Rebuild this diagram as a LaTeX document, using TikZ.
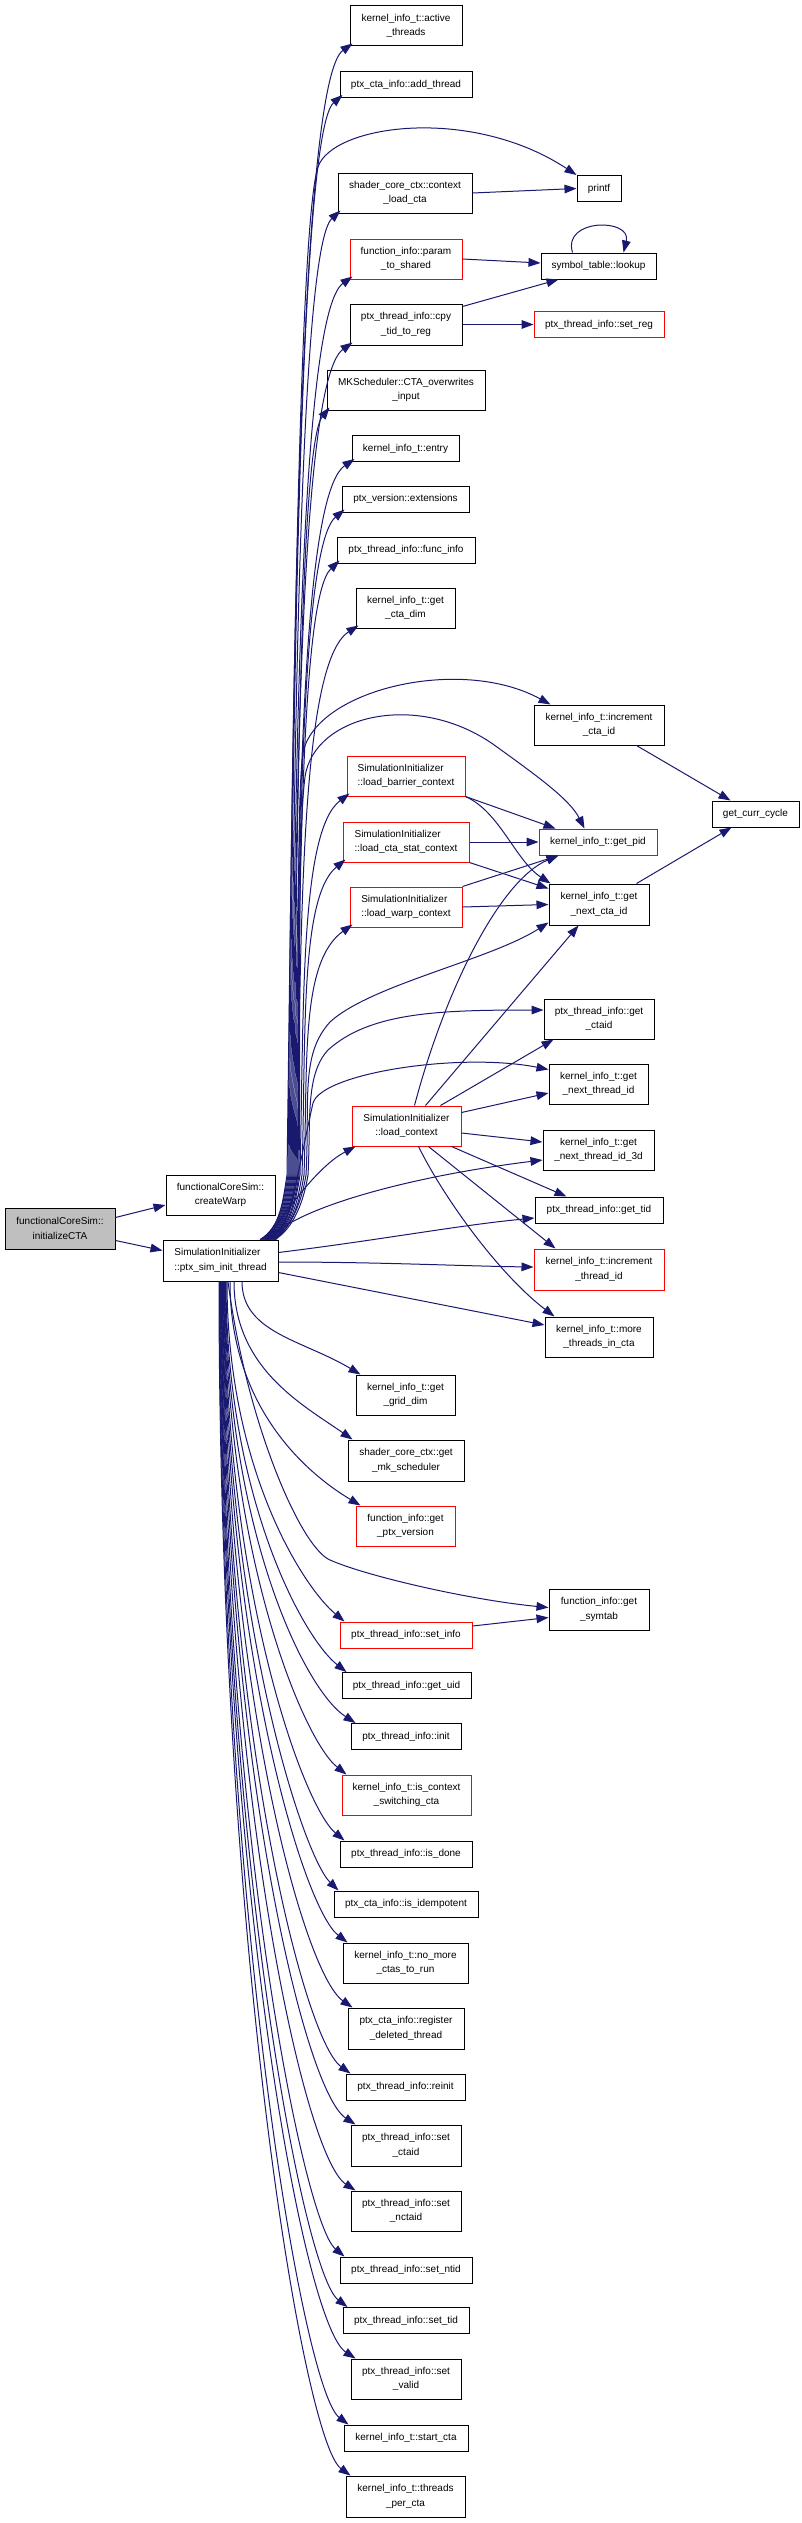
\documentclass[tikz,border=0pt]{standalone}
\usepackage{fontspec}
\setmainfont{Liberation Sans}
\usetikzlibrary{arrows.meta,calc}
\definecolor{edgec}{HTML}{191970}
\definecolor{redc}{HTML}{FF0000}
\definecolor{rootc}{HTML}{BFBFBF}
\begin{document}
\begin{tikzpicture}[x=0.75pt,y=-0.75pt,
  box/.style={draw=black, line width=0.75pt, rectangle, inner sep=0pt, font=\fontsize{7.5pt}{11pt}\selectfont, align=center},
  redbox/.style={box, draw=redc},
  lbox/.style={align=left},
  sz/.style 2 args={minimum width=#1*0.75pt, minimum height=#2*0.75pt},
  edge/.style={draw=edgec, line width=0.75pt, -{Triangle[length=9pt,width=6.5pt]}},
]
\useasboundingbox (0,0) rectangle (801,2523);

% nodes
\node[box, sz={112}{40}] (active) at (406,26) {kernel\_info\_t::active\\\_threads};
\node[box, sz={132}{26}] (addthr) at (406,84.5) {ptx\_cta\_info::add\_thread};
\node[box, sz={134}{40}] (ctxload) at (405,193) {shader\_core\_ctx::context\\\_load\_cta};
\node[box, sz={44}{26}] (printf) at (599,188.5) {printf};
\node[redbox, sz={112}{40}] (param) at (406,259) {function\_info::param\\\_to\_shared};
\node[box, sz={115}{26}] (lookup) at (598.5,266) {symbol\_table::lookup};
\node[box, sz={112}{41}] (cpy) at (406,324.5) {ptx\_thread\_info::cpy\\\_tid\_to\_reg};
\node[redbox, sz={130}{26}] (setreg) at (599,324.5) {ptx\_thread\_info::set\_reg};
\node[box, sz={158}{40}] (mksched) at (406,390) {MKScheduler::CTA\_overwrites\\\_input};
\node[box, sz={107}{26}] (entry) at (405.5,448.5) {kernel\_info\_t::entry};
\node[box, sz={127}{26}] (ext) at (405.5,499) {ptx\_version::extensions};
\node[box, sz={138}{26}] (funcinfo) at (406,550) {ptx\_thread\_info::func\_info};
\node[box, sz={99}{40}] (ctadim) at (405.5,608) {kernel\_info\_t::get\\\_cta\_dim};
\node[box, sz={130}{40}] (inccta) at (599,725) {kernel\_info\_t::increment\\\_cta\_id};
\node[redbox, lbox, sz={118}{40}] (barrier) at (406,776) {SimulationInitializer\\::load\_barrier\_context};
\node[box, sz={87}{26}] (curcycle) at (755.5,814) {get\_curr\_cycle};
\node[redbox, lbox, sz={126}{40}] (ctastat) at (406,842) {SimulationInitializer\\::load\_cta\_stat\_context};
\node[redbox, sz={118}{26}] (getpid) at (598,842) {kernel\_info\_t::get\_pid};
\node[redbox, lbox, sz={112}{40}] (warp) at (406,907) {SimulationInitializer\\::load\_warp\_context};
\node[box, sz={100}{41}] (nextcta) at (599,904.5) {kernel\_info\_t::get\\\_next\_cta\_id};
\node[box, sz={110}{40}] (getctaid) at (599,1019) {ptx\_thread\_info::get\\\_ctaid};
\node[box, sz={99}{40}] (nextthr) at (598.5,1084) {kernel\_info\_t::get\\\_next\_thread\_id};
\node[redbox, sz={109}{40}] (loadctx) at (406.5,1126) {SimulationInitializer\\::load\_context};
\node[box, sz={111}{40}] (nextthr3d) at (598.5,1150) {kernel\_info\_t::get\\\_next\_thread\_id\_3d};
\node[box, sz={109}{40}] (createwarp) at (220.5,1195) {functionalCoreSim::\\createWarp};
\node[box, fill=rootc, sz={110}{41}] (root) at (60,1228.5) {functionalCoreSim::\\initializeCTA};
\node[box, sz={128}{26}] (gettid) at (599,1210) {ptx\_thread\_info::get\_tid};
\node[redbox, sz={130}{41}] (incthr) at (599,1269.5) {kernel\_info\_t::increment\\\_thread\_id};
\node[box, lbox, sz={115}{41}] (P) at (220.5,1260.5) {SimulationInitializer\\::ptx\_sim\_init\_thread};
\node[box, sz={108}{40}] (morethr) at (599,1337) {kernel\_info\_t::more\\\_threads\_in\_cta};
\node[box, sz={99}{40}] (griddim) at (405.5,1395) {kernel\_info\_t::get\\\_grid\_dim};
\node[box, sz={116}{41}] (mksch) at (406,1460.5) {shader\_core\_ctx::get\\\_mk\_scheduler};
\node[redbox, sz={99}{40}] (ptxver) at (405.5,1526) {function\_info::get\\\_ptx\_version};
\node[box, sz={100}{41}] (symtab) at (599,1609.5) {function\_info::get\\\_symtab};
\node[redbox, sz={132}{26}] (setinfo) at (406,1635) {ptx\_thread\_info::set\_info};
\node[box, sz={129}{26}] (getuid) at (406.5,1685.5) {ptx\_thread\_info::get\_uid};
\node[box, sz={110}{26}] (init) at (406,1736.5) {ptx\_thread\_info::init};
\node[redbox, sz={129}{40}] (isctx) at (406.5,1795) {kernel\_info\_t::is\_context\\\_switching\_cta};
\node[box, sz={132}{26}] (isdone) at (406,1854) {ptx\_thread\_info::is\_done};
\node[box, sz={144}{26}] (idem) at (406,1904) {ptx\_cta\_info::is\_idempotent};
\node[box, sz={125}{40}] (nomore) at (405.5,1963) {kernel\_info\_t::no\_more\\\_ctas\_to\_run};
\node[box, sz={116}{41}] (regdel) at (406,2028.5) {ptx\_cta\_info::register\\\_deleted\_thread};
\node[box, sz={119}{26}] (reinit) at (405.5,2087) {ptx\_thread\_info::reinit};
\node[box, sz={110}{41}] (setctaid) at (406,2145.5) {ptx\_thread\_info::set\\\_ctaid};
\node[box, sz={110}{40}] (setnctaid) at (406,2211) {ptx\_thread\_info::set\\\_nctaid};
\node[box, sz={132}{26}] (setntid) at (406,2270) {ptx\_thread\_info::set\_ntid};
\node[box, sz={126}{26}] (settid) at (406,2320.5) {ptx\_thread\_info::set\_tid};
\node[box, sz={110}{40}] (setvalid) at (406,2379) {ptx\_thread\_info::set\\\_valid};
\node[box, sz={124}{26}] (startcta) at (406,2438) {kernel\_info\_t::start\_cta};
\node[box, sz={119}{41}] (thrpercta) at (405.5,2496.5) {kernel\_info\_t::threads\\\_per\_cta};

% upward edges from P to column 2 (pass right of createWarp first)
\foreach \t/\xs/\wx/\yt in {active/260/288/46, addthr/261/289/97, ctxload/262/290/213, param/263/291/279, cpy/264/292/345, mksched/265/293/410, entry/266/294/461, ext/267/295/512, funcinfo/268/296/563, ctadim/269/297/628, barrier/271/300/796, ctastat/272/302/862, warp/273/304/927} {
  \draw[edge] ($(P.north)+(\xs-220.5,0)$) .. controls (\xs+20,1228) and (\wx-4,1200) .. (\wx,1175)
     .. controls (\wx+4,{1175-0.45*(1175-\yt)}) and (300,\yt+35) .. ($(\t.south west)+(3,-3)$);
}
% downward edges from P to column 2
\foreach \t/\xs/\yt in {griddim/242/1375, mksch/234/1440, ptxver/230/1506, setinfo/227/1622, getuid/226/1673, init/225.5/1724, isctx/225/1775, isdone/224.5/1841, idem/224/1891, nomore/223.5/1943, regdel/223/2008, reinit/222.5/2074, setctaid/222/2125, setnctaid/221.5/2191, setntid/221/2257, settid/220.5/2308, setvalid/220/2359, startcta/219.5/2425, thrpercta/219/2476} {
  \draw[edge] ($(P.south)+(\xs-220.5,0)$) .. controls (\xs,{1281+0.55*(\yt-1281)}) and (303,\yt-35) .. ($(\t.north west)+(5,0)$);
}

% curved edges from P to column 3
\draw[edge] ($(P.north)+(40,0)$) .. controls (280.5,1228) and (283,1200) .. (287,1175)
   .. controls (292,800) and (298,227) .. (318,167) .. controls (332,125) and (470,105) .. (printf.north west);
\draw[edge] ($(P.north)+(47.5,0)$) .. controls (288,1228) and (294,1200) .. (298,1175)
   .. controls (300,1000) and (296,800) .. (303,753) .. controls (315,690) and (460,655) .. ($(inccta.north west)+(17,0)$);
\draw[edge] ($(P.north)+(49.5,0)$) .. controls (290,1228) and (295,1200) .. (299,1175)
   .. controls (301,1000) and (297,840) .. (305,777) .. controls (314,714) and (420,690) .. (497,747)
   .. controls (540,778) and (570,800) .. ($(getpid.north west)+(46,0)$);
\draw[edge] ($(P.north)+(53.5,0)$) .. controls (292,1228) and (302,1200) .. (306,1175)
   .. controls (310,1100) and (300,1055) .. (330,1022) .. controls (370,985) and (490,960) .. ($(nextcta.south west)+(0,-3)$);
\draw[edge] ($(P.north)+(54.5,0)$) .. controls (294,1228) and (304,1200) .. (308,1175)
   .. controls (311,1120) and (305,1075) .. (328,1050) .. controls (370,1012) and (440,1010) .. ($(getctaid.west)+(0,-9)$);
\draw[edge] ($(P.north)+(55.5,0)$) .. controls (292,1218) and (300,1160) .. (313,1103)
   .. controls (322,1073) and (460,1052) .. ($(nextthr.north west)+(0,6)$);
\draw[edge] ($(P.north)+(46,0)$) .. controls (290,1205) and (320,1165) .. ($(loadctx.south west)+(4,0)$);
\draw[edge] ($(P.north)+(47,0)$) .. controls (300,1205) and (420,1175) .. ($(nextthr3d.west)+(0,10)$);
\draw[edge] ($(P.east)+(0,-8)$) .. controls (380,1240) and (460,1225) .. ($(gettid.west)+(0,8)$);
\draw[edge] ($(P.east)+(0,1.5)$) .. controls (380,1262) and (460,1266) .. ($(incthr.west)+(0,-2.5)$);
\draw[edge] ($(P.east)+(0,12)$) -- ($(morethr.west)+(0,-12)$);
\draw[edge] ($(P.south)+(7.5,0)$) .. controls (246,1420) and (300,1547) .. (330,1560) .. controls (366,1576) and (470,1600) .. ($(symtab.west)+(0,-2)$);

% root edges
\draw[edge] ($(root.east)+(0,-11)$) -- ($(createwarp.west)+(0,10)$);
\draw[edge] ($(root.east)+(0,12)$) -- ($(P.west)+(0,-10)$);

% other edges
\draw[edge] (ctxload.east) -- (printf.west);
\draw[edge] (param.east) -- ($(lookup.west)+(0,-3)$);
\draw[edge] ($(lookup.north)+(-26,0)$) .. controls (562,218) and (632,218) .. ($(lookup.north)+(25,0)$);
\draw[edge] ($(cpy.north east)+(0,3)$) -- ($(lookup.south west)+(18,0)$);
\draw[edge] (cpy.east) -- (setreg.west);
\draw[edge] ($(inccta.south east)+(-28,0)$) -- ($(curcycle.north west)+(19,0)$);
\draw[edge] ($(nextcta.north east)+(-13,0)$) -- ($(curcycle.south west)+(20,0)$);
\draw[edge] (barrier.south east) -- ($(getpid.north west)+(17,0)$);
\draw[edge] (barrier.south east) .. controls (500,812) and (515,860) .. ($(nextcta.north west)+(2,0)$);
\draw[edge] (ctastat.east) -- (getpid.west);
\draw[edge] (ctastat.south east) -- ($(nextcta.west)+(0,-16)$);
\draw[edge] (warp.north east) -- ($(getpid.south west)+(20,0)$);
\draw[edge] (warp.east) -- (nextcta.west);
\draw[edge] ($(loadctx.north)+(8,0)$) .. controls (445,990) and (500,880) .. ($(getpid.south west)+(20,0)$);
\draw[edge] ($(loadctx.north)+(19,0)$) -- ($(nextcta.south west)+(30,0)$);
\draw[edge] ($(loadctx.north)+(34,0)$) -- ($(getctaid.south west)+(10,0)$);
\draw[edge] ($(loadctx.north east)+(0,7)$) -- ($(nextthr.west)+(0,9)$);
\draw[edge] ($(loadctx.east)+(0,7)$) -- ($(nextthr3d.west)+(0,-8)$);
\draw[edge] ($(loadctx.south east)+(-10,0)$) -- ($(gettid.north west)+(32,0)$);
\draw[edge] ($(loadctx.south)+(22,0)$) -- ($(incthr.north west)+(22,0)$);
\draw[edge] ($(loadctx.south)+(12,0)$) .. controls (445,1200) and (500,1275) .. ($(morethr.north west)+(10,0)$);
\draw[edge] ($(setinfo.east)+(0,-9)$) -- ($(symtab.west)+(0,8)$);
\end{tikzpicture}
\end{document}
